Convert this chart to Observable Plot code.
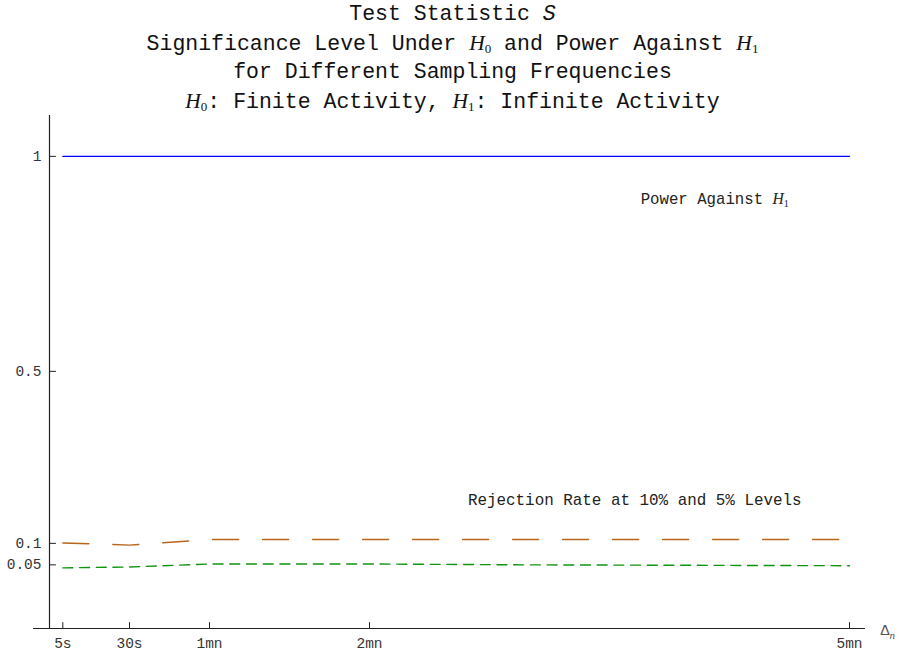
<!DOCTYPE html>
<html>
<head>
<meta charset="utf-8">
<script src="https://cdn.jsdelivr.net/npm/d3@7"></script>
<script src="https://cdn.jsdelivr.net/npm/@observablehq/plot@0.6"></script>
<style>
  body { margin: 0; background: #fff; width: 901px; height: 655px; overflow: hidden; }
  #title { font-family: "Liberation Mono", monospace; font-size: 21.5px; line-height: 28.7px;
           text-align: center; height: 110px; color: #111; padding-left: 4px; box-sizing: border-box; }
  #title i { font-family: "Liberation Serif", serif; font-style: italic; }
  #title sub { font-family: "Liberation Serif", serif; font-size: 13px; line-height: 0;
               vertical-align: baseline; position: relative; top: 3px; }
  svg text { font-family: "Liberation Mono", monospace; }
</style>
</head>
<body>
<div id="title">
  Test Statistic <span style="font-style:italic">S</span><br>
  Significance Level Under <i>H</i><sub>0</sub> and Power Against <i>H</i><sub>1</sub><br>
  for Different Sampling Frequencies<br>
  <i>H</i><sub>0</sub>: Finite Activity, <i>H</i><sub>1</sub>: Infinite Activity
</div>
<div id="chart"></div>
<script>
// sampling interval in seconds
const seconds  = [5, 15, 30, 60, 120, 180, 240, 300];
const power    = [1, 1, 1, 1, 1, 1, 1, 1];
const reject10 = [0.101, 0.099, 0.096, 0.109, 0.109, 0.109, 0.109, 0.109];
const reject5  = [0.043, 0.044, 0.045, 0.052, 0.052, 0.050, 0.049, 0.048];
const xTickValues = [5, 30, 60, 120, 300];
const xTickLabels = ["5s", "30s", "1mn", "2mn", "5mn"];
const yTickValues = [1, 0.5, 0.1, 0.05];
const yTickLabels = ["1", "0.5", "0.1", "0.05"];

const toRows = (ys) => seconds.map((s, i) => ({x: s, y: ys[i]}));
const xTicks = xTickValues.map((v, i) => ({v, label: xTickLabels[i]}));
const yTicks = yTickValues.map((v, i) => ({v, label: yTickLabels[i]}));

const yMin = -0.098, yMax = 1.095;
const xMin = -6, xMax = 306;

const plot = Plot.plot({
  width: 901,
  height: 545,
  marginLeft: 33,
  marginRight: 36,
  marginTop: 5,
  marginBottom: 27,
  x: {domain: [xMin, xMax], axis: null},
  y: {domain: [yMin, yMax], axis: null},
  marks: [
    // axis lines
    Plot.ruleX([0], {y1: yMin, y2: yMax, stroke: "#222", strokeWidth: 1.2}),
    Plot.ruleY([yMin], {x1: xMin, x2: xMax, stroke: "#222", strokeWidth: 1.2}),
    // y ticks (pointing right)
    Plot.ruleY(yTicks, {y: "v", x1: 0, x2: 2.6, stroke: "#222", strokeWidth: 1}),
    Plot.text(yTicks, {x: 0, y: "v", text: "label", textAnchor: "end", dx: -8, fontSize: 14.5, fill: "#333"}),
    // x ticks (pointing up)
    Plot.ruleX(xTicks, {x: "v", y1: yMin, y2: yMin + 0.0135, stroke: "#222", strokeWidth: 1}),
    Plot.text(xTicks, {x: "v", y: yMin, text: "label", dy: 15, fontSize: 14.5, fill: "#333"}),
    Plot.text(["Δn"], {x: xMax, y: yMin, text: d => d, textAnchor: "start", dx: 15, dy: 2, fontSize: 15, fill: "#555", className: "dlabel"}),
    // series
    Plot.line(toRows(power), {x: "x", y: "y", stroke: "#0000ff", strokeWidth: 1.3}),
    Plot.line(toRows(reject10), {x: "x", y: "y", stroke: "#b9651c", strokeWidth: 1.4, strokeDasharray: "26,24"}),
    Plot.line(toRows(reject5), {x: "x", y: "y", stroke: "#119311", strokeWidth: 1.4, strokeDasharray: "10,6.7"}),
    // annotations
    Plot.text(["Power Against H_1"], {x: 221.7, y: 0.9, text: d => d, textAnchor: "start", fontSize: 15.7, fill: "#222", className: "ann"}),
    Plot.text(["Rejection Rate at 10% and 5% Levels"], {x: 156.9, y: 0.202, text: d => d, textAnchor: "start", fontSize: 15.9, fill: "#222"})
  ]
});
document.getElementById("chart").appendChild(plot);

// typeset subscripts
d3.select(plot).selectAll(".ann text").each(function() {
  this.innerHTML = this.textContent.replace("H_1",
    '<tspan font-family="Liberation Serif" font-style="italic">H</tspan><tspan font-family="Liberation Serif" font-size="10" dy="3">1</tspan>');
});
d3.select(plot).selectAll(".dlabel text").each(function() {
  this.innerHTML = 'Δ<tspan font-family="Liberation Serif" font-style="italic" font-size="11" dy="4">n</tspan>';
});
</script>
</body>
</html>
